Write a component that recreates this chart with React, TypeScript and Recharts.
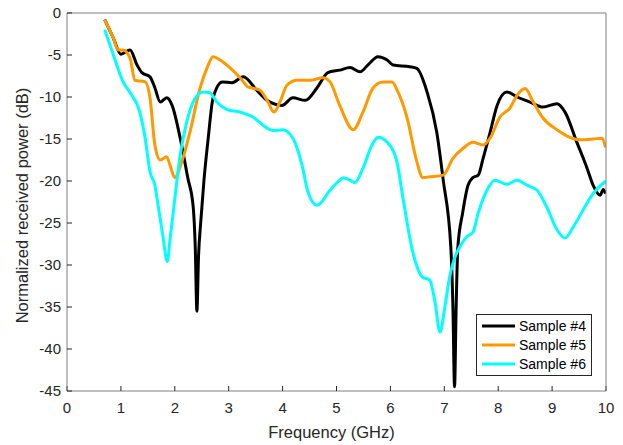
import React from 'react';
import { LineChart, Line, XAxis, YAxis, Legend } from 'recharts';

// Frequency sweep (GHz) and normalized received power (dB) per sample
const sample4Freq = [0.7, 0.86, 1.0, 1.17, 1.3, 1.39, 1.54, 1.63, 1.73, 1.85, 1.95, 2.1, 2.24, 2.34, 2.38, 2.41, 2.44, 2.48, 2.54, 2.62, 2.71, 2.88, 3.06, 3.27, 3.52, 3.71, 3.99, 4.19, 4.42, 4.64, 4.84, 5.06, 5.25, 5.44, 5.58, 5.77, 5.94, 6.05, 6.36, 6.49, 6.68, 6.86, 6.98, 7.12, 7.16, 7.19, 7.22, 7.25, 7.34, 7.44, 7.53, 7.63, 7.72, 7.85, 7.98, 8.16, 8.35, 8.59, 8.83, 9.09, 9.24, 9.46, 9.65, 9.76, 9.89, 9.95, 9.99];
const sample4Power = [-0.8, -3, -4.9, -4.4, -6.2, -7.1, -7.6, -8.9, -10.6, -10.1, -11, -14.9, -19.6, -23, -28, -35.5, -29, -25, -20, -14.9, -10.1, -8.2, -8.3, -7.6, -9.2, -10.4, -11, -10.1, -10.4, -8.9, -7.1, -6.8, -6.5, -7.0, -6.2, -5.2, -5.6, -6.2, -6.4, -6.6, -9.4, -14.2, -19.9, -27.8, -35, -44.5, -35, -28, -23.8, -20.5, -19.6, -19.3, -17.3, -14.2, -11, -9.4, -10, -10.6, -11.2, -10.8, -11.8, -15.4, -18.5, -20.5, -21.7, -21, -21.5];

const sample5Freq = [0.7, 0.86, 0.95, 1.04, 1.17, 1.26, 1.45, 1.54, 1.63, 1.73, 1.85, 1.91, 2.0, 2.13, 2.28, 2.47, 2.6, 2.71, 2.84, 3.02, 3.21, 3.36, 3.58, 3.73, 3.84, 3.95, 4.08, 4.27, 4.51, 4.75, 4.88, 5.06, 5.31, 5.49, 5.68, 5.86, 6.03, 6.14, 6.31, 6.49, 6.6, 6.73, 6.98, 7.16, 7.35, 7.53, 7.72, 7.85, 8.03, 8.22, 8.35, 8.5, 8.65, 8.83, 9.09, 9.33, 9.52, 9.76, 9.93, 9.99];
const sample5Power = [-0.8, -3, -4.4, -4.4, -5.4, -8.0, -8.2, -10.1, -15.7, -17.5, -17.1, -18.1, -19.6, -17.7, -14.2, -8.9, -6.5, -5.2, -5.6, -6.5, -7.7, -8.8, -9.2, -10.6, -11.8, -10.6, -8.6, -8.0, -8.0, -7.7, -8.2, -11, -13.9, -11.8, -8.9, -8.2, -8.2, -9.4, -12.5, -17.7, -19.6, -19.5, -19.3, -17.3, -16.1, -15.4, -15.7, -14.9, -12.4, -11.3, -9.8, -9.0, -10.6, -12.5, -13.9, -14.8, -15.1, -15.0, -14.9, -16];

const sample6Freq = [0.7, 0.86, 1.04, 1.17, 1.35, 1.45, 1.54, 1.63, 1.69, 1.78, 1.86, 1.91, 1.97, 2.04, 2.1, 2.22, 2.34, 2.52, 2.65, 2.78, 2.97, 3.21, 3.45, 3.71, 3.82, 4.0, 4.19, 4.36, 4.47, 4.64, 4.88, 5.06, 5.12, 5.25, 5.34, 5.49, 5.66, 5.77, 5.94, 6.12, 6.23, 6.42, 6.59, 6.73, 6.83, 6.92, 7.01, 7.1, 7.16, 7.29, 7.42, 7.53, 7.63, 7.79, 7.94, 8.16, 8.35, 8.53, 8.72, 8.9, 9.09, 9.24, 9.39, 9.57, 9.76, 9.94, 10];
const sample6Power = [-2, -5, -8.2, -9.5, -11.8, -14.9, -18.9, -20.5, -22.9, -26.6, -29.6, -27, -23.8, -19.9, -16.9, -13, -10.6, -9.4, -9.5, -10.6, -11.5, -11.8, -12.4, -13.7, -14, -13.9, -14.9, -18.1, -21.3, -22.9, -21.1, -19.9, -19.6, -19.9, -20.2, -18.5, -15.7, -14.8, -15.4, -17.7, -21.9, -28.6, -31.4, -31.8, -34.5, -38, -35, -31.4, -29.8, -27.8, -26.6, -26.1, -23.8, -21.1, -19.9, -20.4, -19.9, -20.5, -21.1, -23.1, -25.8, -26.8, -25.5, -23.5, -21.5, -20.3, -20];

const xTicks = [0, 1, 2, 3, 4, 5, 6, 7, 8, 9, 10];
const yTicks = [-45, -40, -35, -30, -25, -20, -15, -10, -5, 0];

const seriesNames = ['Sample #4', 'Sample #5', 'Sample #6'];
const seriesColors = ['#000000', '#ff9900', '#00ffff'];

const toPoints = (xs: number[], ys: number[]) => xs.map((x, i) => ({ x, y: ys[i] }));

const series = [
  toPoints(sample4Freq, sample4Power),
  toPoints(sample5Freq, sample5Power),
  toPoints(sample6Freq, sample6Power),
];

const FONT = '"Liberation Sans", Arial, Helvetica, sans-serif';
const AXIS_GREY = '#808080';
const TEXT_GREY = '#262626';

const LegendBox = () => (
  <svg width={116} height={62} style={{ display: 'block' }}>
    <rect x={0.5} y={0.5} width={115} height={61} fill="#ffffff" stroke={TEXT_GREY} strokeWidth={1} />
    {seriesNames.map((name, i) => (
      <g key={name}>
        <line x1={6} x2={39} y1={12 + i * 19} y2={12 + i * 19} stroke={seriesColors[i]} strokeWidth={3} />
        <text x={43} y={17 + i * 19} fontSize={14} fontFamily={FONT} fill="#000000">
          {name}
        </text>
      </g>
    ))}
  </svg>
);

export default function App() {
  const tickStyle = { fontSize: 15, fontFamily: FONT, fill: TEXT_GREY };
  return (
    <div style={{ position: 'absolute', left: 0, top: 0, width: 623, height: 445, background: '#ffffff' }}>
      <LineChart width={623} height={445} margin={{ top: 0, right: 0, bottom: 0, left: 0 }}>
        <XAxis
          xAxisId="main"
          dataKey="x"
          type="number"
          domain={[0, 10]}
          ticks={xTicks}
          allowDataOverflow
          height={54}
          tickSize={-5}
          tickMargin={16}
          tick={tickStyle}
          stroke={AXIS_GREY}
          tickLine={{ stroke: TEXT_GREY }}
          label={{
            value: 'Frequency (GHz)',
            position: 'insideBottom',
            offset: 7,
            dx: -5,
            style: { fontSize: 16.5, fontFamily: FONT, fill: TEXT_GREY },
          }}
        />
        <XAxis
          xAxisId="top"
          orientation="top"
          dataKey="x"
          type="number"
          domain={[0, 10]}
          ticks={xTicks}
          allowDataOverflow
          height={13}
          tickSize={-5}
          tick={false}
          stroke={AXIS_GREY}
          tickLine={{ stroke: TEXT_GREY }}
        />
        <YAxis
          yAxisId="main"
          type="number"
          domain={[-45, 0]}
          ticks={yTicks}
          allowDataOverflow
          width={67}
          tickSize={-5}
          tickMargin={11}
          tick={tickStyle}
          stroke={AXIS_GREY}
          tickLine={{ stroke: TEXT_GREY }}
          label={{
            value: 'Normalized received power (dB)',
            angle: -90,
            position: 'insideLeft',
            offset: 22,
            dy: 3.5,
            style: { fontSize: 16.5, fontFamily: FONT, fill: TEXT_GREY, textAnchor: 'middle' },
          }}
        />
        <YAxis
          yAxisId="right"
          orientation="right"
          type="number"
          domain={[-45, 0]}
          ticks={yTicks}
          allowDataOverflow
          width={17}
          tickSize={-5}
          tick={false}
          stroke={AXIS_GREY}
          tickLine={{ stroke: TEXT_GREY }}
        />
        {series.map((pts, i) => (
          <Line
            key={seriesNames[i]}
            xAxisId="main"
            yAxisId="main"
            data={pts}
            dataKey="y"
            name={seriesNames[i]}
            type="monotone"
            stroke={seriesColors[i]}
            strokeWidth={3}
            dot={false}
            activeDot={false}
            isAnimationActive={false}
          />
        ))}
        <Legend
          layout="vertical"
          align="center"
          verticalAlign="middle"
          wrapperStyle={{ left: 476, top: 314, width: 116, height: 62 }}
          content={() => <LegendBox />}
        />
      </LineChart>
    </div>
  );
}
